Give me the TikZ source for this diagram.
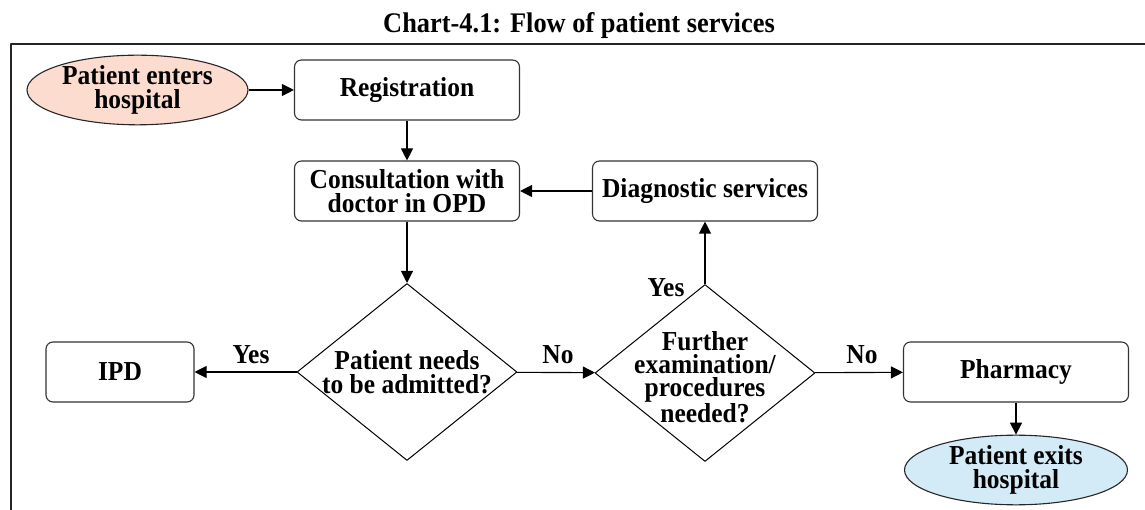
\documentclass[tikz,border=0pt]{standalone}
\usepackage{fontspec}
\setmainfont{Liberation Serif}[FakeStretch=0.93]
\usetikzlibrary{shapes.geometric,arrows.meta}
\definecolor{enterfill}{HTML}{FBDCCF}
\definecolor{exitfill}{HTML}{D3EAF7}
\tikzset{
  stepbox/.style={draw=black!80,rounded corners=7bp,line width=1.1bp,minimum width=225bp,minimum height=60bp,align=center,inner sep=0bp},
  endbox/.style={ellipse,draw=black!85,line width=1.1bp,minimum width=221bp,minimum height=61bp,align=center,inner sep=0bp},
  decide/.style={diamond,draw=black,line width=1bp,minimum width=220bp,minimum height=177bp,inner sep=0bp},
  answer/.style={inner sep=0bp},
}
\begin{document}
\begin{tikzpicture}[>={Triangle[length=12bp,width=12bp]},line join=bevel,font=\fontsize{27.5}{24.5}\selectfont\bfseries]
\useasboundingbox (0bp,0bp) rectangle (1145bp,510bp);
%%
\node (title) at (579bp,477bp) [answer,anchor=base,font=\fontsize{28.5}{30}\selectfont\bfseries] {Chart-4.1: Flow of patient services};
\draw [black!85,line width=1.3bp] (11bp,0bp) -- (11bp,466bp) -- (1145bp,466bp);
%%
\node (node_0) at (137.5bp,420bp) [endbox,fill=enterfill] {Patient enters\\hospital};
  \node (node_1) at (407bp,420bp) [stepbox] {Registration};
  \node (node_2) at (407bp,319bp) [stepbox] {Consultation with\\doctor in OPD};
  \node (node_3) at (705bp,319bp) [stepbox] {Diagnostic services};
  \node (node_4) at (407bp,138bp) [decide,label={[align=center]center:{Patient needs\\to be admitted?}}] {};
  \node (node_5) at (705bp,137bp) [decide,label={[align=center,yshift=-4bp,font=\fontsize{27.5}{23}\selectfont\bfseries]center:{Further\\examination/\\procedures\\needed?}}] {};
  \node (node_6) at (120bp,138bp) [stepbox,minimum width=148bp] {IPD};
  \node (node_7) at (1016bp,138bp) [stepbox] {Pharmacy};
  \node (node_8) at (1016bp,40bp) [endbox,fill=exitfill,minimum width=223bp,minimum height=64bp] {Patient exits\\hospital};
%%
\node (yes_0) at (251bp,155bp) [answer] {Yes};
  \node (no_0) at (558bp,155bp) [answer] {No};
  \node (yes_1) at (666bp,222bp) [answer] {Yes};
  \node (no_1) at (862bp,155bp) [answer] {No};
%%
\draw [black,line width=1.1bp,->] (node_0) -- (node_1);
  \draw [black,line width=1.1bp,->] (node_1) -- (node_2);
  \draw [black,line width=1.1bp,->] (node_3) -- (node_2);
  \draw [black,line width=1.1bp,->] (node_2) -- (node_4);
  \draw [black,line width=1.1bp,->] (node_4) -- (node_6);
  \draw [black,line width=1.1bp,->] (node_4) -- (node_5);
  \draw [black,line width=1.1bp,->] (node_5) -- (node_3);
  \draw [black,line width=1.1bp,->] (node_5) -- (node_7);
  \draw [black,line width=1.1bp,->] (node_7) -- (node_8);
%
\end{tikzpicture}
\end{document}
